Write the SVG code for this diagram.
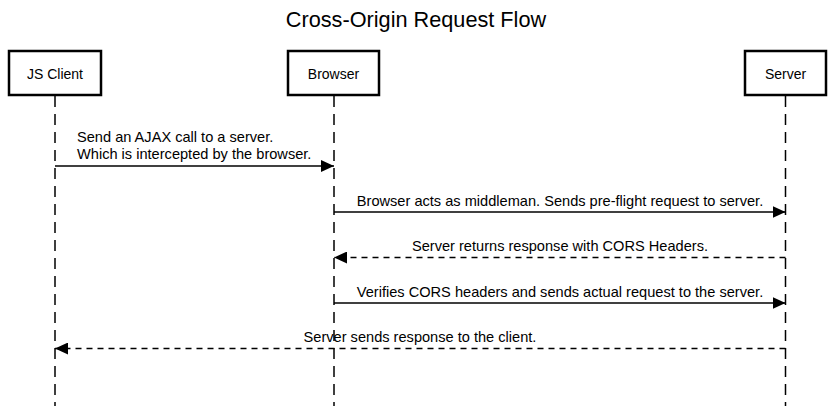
<svg xmlns="http://www.w3.org/2000/svg" width="833" height="406" viewBox="0 0 833 406">
<style>
text{font-family:"Liberation Sans",Arial,sans-serif;fill:#000}
.title{font-size:21.7px;text-anchor:middle}
.actor rect{fill:#fff;stroke:#000;stroke-width:2.5}
.actor text{font-size:14px;text-anchor:middle}
.life{stroke:#000;stroke-width:1.5;stroke-dasharray:11,7;fill:none}
.msg{stroke:#000;stroke-width:1.5;fill:none}
.dash{stroke-dasharray:6,5}
.lbl{font-size:14.6px;text-anchor:middle}
.lbs{font-size:14.6px}
</style>
<defs>
<marker id="ah" markerUnits="userSpaceOnUse" markerWidth="14" markerHeight="12" refX="13" refY="6" orient="auto">
<path d="M0,0 L13,6 L0,12 z" fill="#000"/>
</marker>
</defs>
<rect width="833" height="406" fill="#fff"/>
<text class="title" x="416" y="27">Cross-Origin Request Flow</text>
<g id="lifelines">
<line class="life" x1="55" y1="96" x2="55" y2="406"/>
<line class="life" x1="334" y1="96" x2="334" y2="406"/>
<line class="life" x1="785.5" y1="96" x2="785.5" y2="406"/>
</g>
<g id="node-jsclient" class="actor"><rect x="9" y="51" width="92" height="44"/><text x="55" y="79">JS Client</text></g>
<g id="node-browser" class="actor"><rect x="288" y="51" width="91" height="44"/><text x="333.5" y="79">Browser</text></g>
<g id="node-server" class="actor"><rect x="745" y="51" width="81" height="44"/><text x="785.5" y="79">Server</text></g>
<g id="connectors">
<line class="msg" x1="55" y1="166" x2="334" y2="166" marker-end="url(#ah)"/>
<text class="lbs" x="77" y="142">Send an AJAX call to a server.</text>
<text class="lbs" x="77" y="159">Which is intercepted by the browser.</text>
<line class="msg" x1="334" y1="212" x2="785.5" y2="212" marker-end="url(#ah)"/>
<text class="lbl" x="560" y="206">Browser acts as middleman. Sends pre-flight request to server.</text>
<line class="msg dash" x1="785.5" y1="257.5" x2="334" y2="257.5" marker-end="url(#ah)"/>
<text class="lbl" x="560" y="251">Server returns response with CORS Headers.</text>
<line class="msg" x1="334" y1="303" x2="785.5" y2="303" marker-end="url(#ah)"/>
<text class="lbl" x="560" y="297">Verifies CORS headers and sends actual request to the server.</text>
<line class="msg dash" x1="785.5" y1="348.5" x2="55" y2="348.5" marker-end="url(#ah)"/>
<text class="lbl" x="420" y="342">Server sends response to the client.</text>
</g>
</svg>
